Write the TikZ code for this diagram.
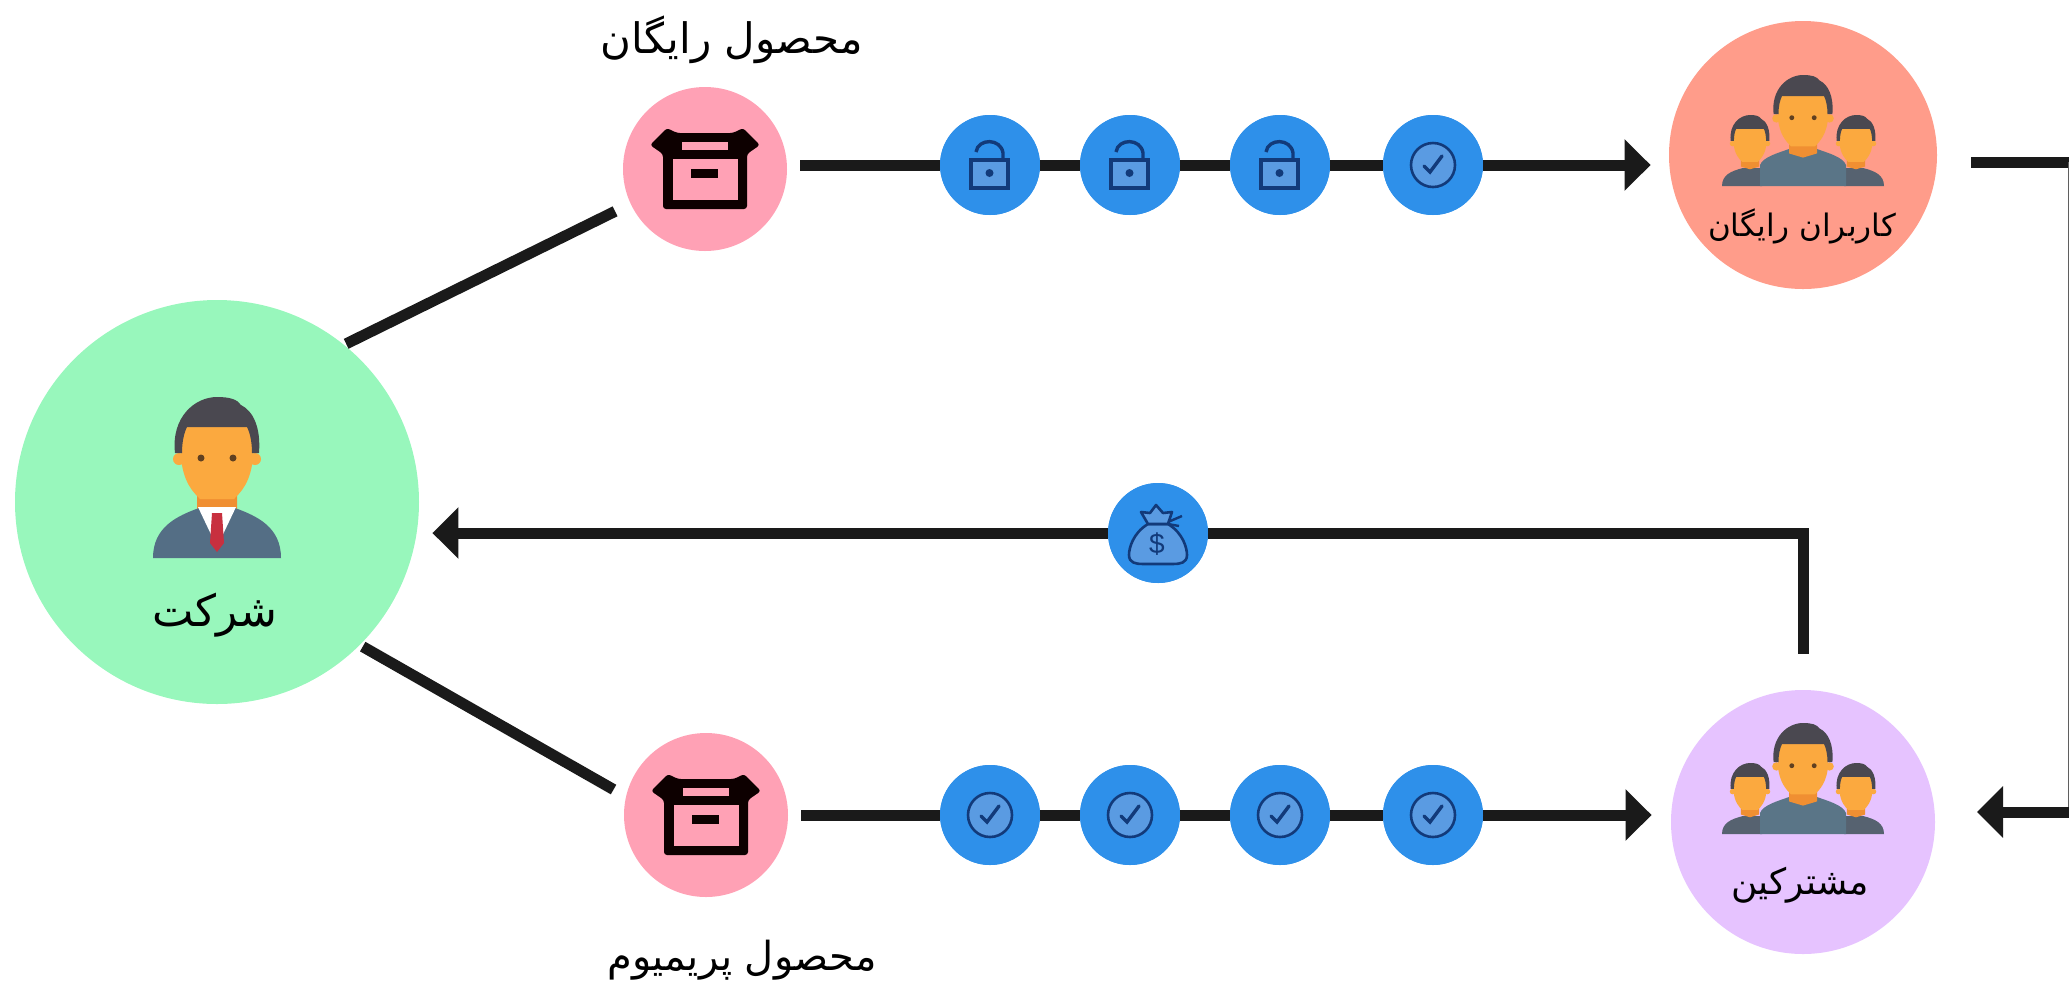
\documentclass[tikz,border=0pt]{standalone}
\usepackage{fontspec}
\usetikzlibrary{arrows.meta}
\TeXXeTstate=1
\newfontfamily\arabicfont[Script=Arabic]{DejaVu Sans}
\setsansfont{Liberation Sans}
\definecolor{companyfill}{HTML}{98F7BC}
\definecolor{prodfill}{HTML}{FFA1B5}
\definecolor{freefill}{HTML}{FF9C8A}
\definecolor{subfill}{HTML}{E6C3FF}
\definecolor{bluefill}{HTML}{2E90EA}
\definecolor{iconink}{HTML}{123A7A}
\definecolor{iconlight}{HTML}{5A9BE2}
\definecolor{hairc}{HTML}{4A4850}
\definecolor{facec}{HTML}{FBA93F}
\definecolor{beardc}{HTML}{F08F32}
\definecolor{suitc}{HTML}{546E85}
\definecolor{sidesuit}{HTML}{566270}
\definecolor{midsuit}{HTML}{5A7587}
\definecolor{tiec}{HTML}{C8303F}
\definecolor{linec}{HTML}{1A1A1A}
\newcommand{\headshape}[1]{%
  \fill[facec] (-38,62) circle (6) (38,62) circle (6);
  \fill[beardc] (-20,96) -- (20,96) -- (20,112) -- (0,118) -- (-20,112) -- cycle;
  \fill[facec] (-36,30) -- (36,30) -- (36,60) .. controls (34,85) and (24,95) .. (17,102) -- (-17,102) .. controls (-24,95) and (-34,85) .. (-36,60) -- cycle;
  \fill[hairc] (-42,56) .. controls (-46,20) and (-22,0) .. (0,0) .. controls (12,0) and (20,2) .. (24,8) .. controls (36,14) and (44,30) .. (42,56) -- (35,56) .. controls (35,45) and (33,36) .. (30,30) -- (-30,30) .. controls (-33,36) and (-35,45) .. (-35,56) -- cycle;
  #1}
\newcommand{\eyepair}{\fill[black!50!brown] (-16,61) circle (3.5) (16,61) circle (3.5);}
\tikzset{
  x=0.5pt,y=-0.5pt,
  disc/.style={circle,inner sep=0pt,draw=none},
  bluedot/.style={disc,fill=bluefill,minimum size=50pt},
  conn/.style={draw=linec,line width=5.5pt},
  arrowed/.style={conn,-{Triangle[length=13pt,width=25pt]}},
  label/.style={inner sep=0pt,font=\arabicfont\fontsize{#1}{#1}\selectfont,text=black},
  pics/personicon/.style={code={
    \begin{scope}
    \headshape{\eyepair}
    \fill[suitc] (-64,161) .. controls (-64,130) and (-40,119) .. (-18,111) -- (18,111) .. controls (40,119) and (64,130) .. (64,161) -- cycle;
    \fill[white] (-19,110) -- (19,110) -- (0,150) -- cycle;
    \fill[tiec] (-5,116) -- (5,116) -- (7,146) -- (0,155) -- (-7,146) -- cycle;
    \end{scope}
  }},
  pics/groupicon/.style={code={
    \fill[sidesuit] (-81,111) .. controls (-81,100) and (-72,96) .. (-60,93) -- (-41,93) -- (-41,111) -- cycle;
    \fill[sidesuit] (81,111) .. controls (81,100) and (72,96) .. (60,93) -- (41,93) -- (41,111) -- cycle;
    \begin{scope}[shift={(-53,40)},scale=.46]\headshape{}\end{scope}
    \begin{scope}[shift={(53,40)},scale=.46]\headshape{}\end{scope}
    \fill[midsuit] (-43,111) -- (-43,90) .. controls (-40,82) and (-25,78) .. (-14,74) -- (14,74) .. controls (25,78) and (40,82) .. (43,90) -- (43,111) -- cycle;
    \begin{scope}[scale=.7]\headshape{\eyepair}\end{scope}
  }},
  pics/boxicon/.style={code={
    \fill[black!95!red,rounded corners=1.5pt] (-55,-24) -- (-38,-41) -- (-28,-36) -- (28,-36) -- (38,-41) -- (55,-24) -- (42,-15) -- (42,40) -- (-42,40) -- (-42,-15) -- cycle;
    \fill[prodfill] (-32,-10) rectangle (33,31);
    \fill[prodfill] (-23,-27) rectangle (23,-19);
    \fill[black!95!red] (-14,0) rectangle (13,9);
  }},
  pics/lockicon/.style={code={
    \draw[iconink,line width=1.7pt] (-14,-13) .. controls (-12,-27) and (11,-27) .. (13,-12) -- (13,-5);
    \draw[iconink,fill=iconlight,line width=1.7pt] (-19,-5) rectangle (18,23);
    \fill[iconink] (-0.5,8) circle (4);
  }},
  pics/checkicon/.style={code={
    \draw[iconink,fill=iconlight,line width=1.3pt] (0,0) circle (22);
    \draw[iconink,line width=1.7pt,line cap=round] (-9,1) -- (-3,7) -- (9,-9);
  }},
  pics/bagicon/.style={code={
    \draw[iconink,fill=iconlight,line width=1.3pt,line join=round] (-10,-9) .. controls (-25,0) and (-29,15) .. (-29,22) .. controls (-29,30) and (-22,31) .. (-15,31) -- (15,31) .. controls (22,31) and (29,30) .. (29,22) .. controls (29,15) and (25,0) .. (10,-9) -- cycle;
    \draw[iconink,fill=iconlight,line width=1.3pt,line join=round] (-10,-9) -- (-17,-21) -- (-8,-20) -- (-2,-28) -- (5,-20) -- (14,-21) -- (10,-9) -- cycle;
    \draw[iconink,line width=1.2pt] (10,-11) -- (24,-17) (10,-9) -- (21,-7);
  }},
}
\begin{document}
\begin{tikzpicture}
\useasboundingbox (0,0) rectangle (2069,987);
% circles
\node[disc,fill=companyfill,minimum size=202pt] (company) at (217,502) {};
\node[disc,fill=prodfill,minimum size=82pt] (freeprod) at (705,169) {};
\node[disc,fill=prodfill,minimum size=82pt] (premprod) at (706,815) {};
\node[disc,fill=freefill,minimum size=134pt] (users) at (1803,155) {};
\node[disc,fill=subfill,minimum size=132pt] (subs) at (1803,822) {};
% blue dots
\node[bluedot] (lockA) at (990,165) {};
\node[bluedot] (lockB) at (1130,165) {};
\node[bluedot] (lockC) at (1280,165) {};
\node[bluedot] (checkT) at (1433,165) {};
\node[bluedot] (checkA) at (990,815) {};
\node[bluedot] (checkB) at (1130,815) {};
\node[bluedot] (checkC) at (1280,815) {};
\node[bluedot] (checkD) at (1433,815) {};
\node[bluedot] (money) at (1158,533) {};
% free ends
\coordinate (outstart) at (1971,162);
\coordinate (edgetop) at (2069,162);
\coordinate (edgebot) at (2069,812);
\coordinate (subsin) at (1977,812);
% connectors
\draw[conn,shorten >=8.5pt,shorten <=1pt] (company.51) -- (freeprod.205);
\draw[conn,shorten >=7pt,shorten <=1.5pt] (company.-45) -- (premprod.167);
\draw[conn,shorten <=6.5pt] (freeprod.east |- lockA.west) -- (lockA.west);
\draw[conn] (lockA) -- (lockB);
\draw[conn] (lockB) -- (lockC);
\draw[conn] (lockC) -- (checkT);
\draw[arrowed,shorten >=9pt] (checkT.east) -- (users.west |- checkT.east);
\draw[conn,shorten <=6.5pt] (premprod.east |- checkA.west) -- (checkA.west);
\draw[conn] (checkA) -- (checkB);
\draw[conn] (checkB) -- (checkC);
\draw[conn] (checkC) -- (checkD);
\draw[arrowed,shorten >=9.5pt] (checkD.east) -- (subs.west |- checkD.east);
\draw[conn,shorten <=18pt] (subs.north) |- (money.east);
\draw[arrowed,shorten >=6.5pt] (money.west) -- (money.west -| company.east);
\draw[conn] (outstart) -- (edgetop);
\draw[draw=linec!70,line width=.7pt] (2068.4,162) -- (2068.4,812);
\draw[arrowed] (edgebot) -- (subsin);
% redraw dots over the connector ends
\foreach \n in {lockA,lockB,lockC,checkT,checkA,checkB,checkC,checkD,money}
  \fill[bluefill] (\n) circle (50);
% icons
\pic at (217,397) {personicon};
\pic at (705,169) {boxicon};
\pic at (706,815) {boxicon};
\pic at (1803,75) {groupicon};
\pic at (1803,723) {groupicon};
\pic at (lockA) {lockicon};
\pic at (lockB) {lockicon};
\pic at (lockC) {lockicon};
\pic at (checkT) {checkicon};
\pic at (checkA) {checkicon};
\pic at (checkB) {checkicon};
\pic at (checkC) {checkicon};
\pic at (checkD) {checkicon};
\pic at (money) {bagicon};
\node[inner sep=0pt,text=iconink,font=\sffamily\fontsize{14}{14}\selectfont] (dollar) at (1157,544) {\$};
% labels
\node[label=21] (lfree) at (732,40) {\beginR محصول رایگان\endR};
\node[label=20] (lprem) at (742,960) {\beginR محصول پریمیوم\endR};
\node[label=22] (lcompany) at (215,615) {\beginR شرکت\endR};
\node[label=15.5] (lusers) at (1802,226) {\beginR کاربران رایگان\endR};
\node[label=18] (lsubs) at (1800,885) {\beginR مشترکین\endR};
\end{tikzpicture}
\end{document}
